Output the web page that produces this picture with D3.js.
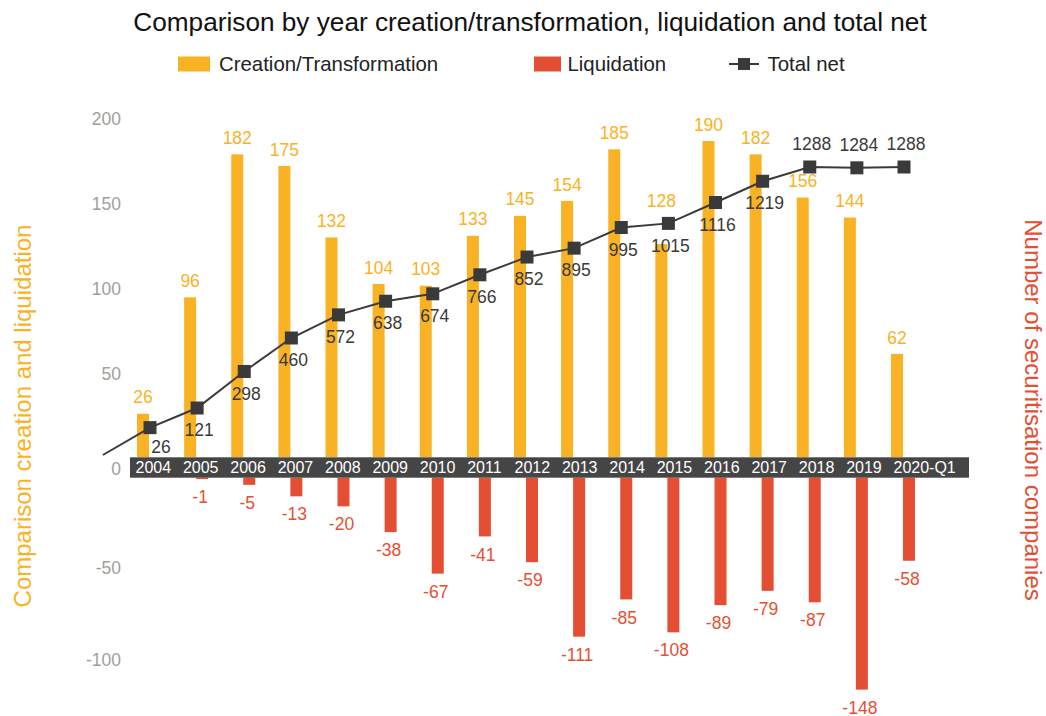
<!DOCTYPE html>
<html>
<head>
<meta charset="utf-8">
<script src="https://cdn.jsdelivr.net/npm/d3@7"></script>
<style>
  html, body { margin: 0; padding: 0; background: #fff; }
  svg text { font-family: "Helvetica Neue", Helvetica, Arial, "Liberation Sans", sans-serif; }
</style>
</head>
<body>
<svg id="chart" width="1046" height="716"></svg>
<script>
// ---- data ----
const categories = ["2004","2005","2006","2007","2008","2009","2010","2011","2012","2013","2014","2015","2016","2017","2018","2019","2020-Q1"];
const creation = [26, 96, 182, 175, 132, 104, 103, 133, 145, 154, 185, 128, 190, 182, 156, 144, 62];
const liquidation = [null, -1, -5, -13, -20, -38, -67, -41, -59, -111, -85, -108, -89, -79, -87, -148, -58];
const totalNet = [26, 121, 298, 460, 572, 638, 674, 766, 852, 895, 995, 1015, 1116, 1219, 1288, 1284, 1288];
const leftTicks = [200, 150, 100, 50, 0, -50, -100];
const seriesNames = ["Creation/Transformation", "Liquidation", "Total net"];

// ---- style ----
const YELLOW = "#F9B224", RED = "#E44F33", DARK = "#3a3a3a", BAND = "#454545", GREY = "#a39e99";
const FONT = "'Helvetica Neue', Helvetica, Arial, 'Liberation Sans', sans-serif";

const svg = d3.select("#chart");

// ---- scales ----
const x = d3.scalePoint().domain(categories).range([149, 903]);
const xLab = d3.scalePoint().domain(categories).range([135, 893]);
const step = x.step();
const barW = 12;
const yC = d3.scaleLinear().domain([0, 200]).range([457, 124.4]);
const yL = d3.scaleLinear().domain([0, -150]).range([477.7, 692.5]);
const yN = d3.scaleLinear().domain([0, 1288]).range([433, 167]);
const yAxis = d3.scaleLinear().domain([-100, -50, 0, 50, 200]).range([660, 568, 469, 374, 119]);

// ---- title ----
svg.append("text").attr("x", 530).attr("y", 31).attr("text-anchor", "middle")
  .attr("font-size", 26.2).attr("fill", "#111")
  .text("Comparison by year creation/transformation, liquidation and total net");

// ---- legend ----
const lg = svg.append("g");
lg.append("rect").attr("x", 178).attr("y", 56.5).attr("width", 32).attr("height", 15).attr("fill", YELLOW);
lg.append("text").attr("x", 219).attr("y", 64).attr("dy", "0.35em").attr("font-size", 20.4).attr("fill", "#222").text(seriesNames[0]);
lg.append("rect").attr("x", 534).attr("y", 56.5).attr("width", 27).attr("height", 15).attr("fill", RED);
lg.append("text").attr("x", 567.5).attr("y", 64).attr("dy", "0.35em").attr("font-size", 20.4).attr("fill", "#222").text(seriesNames[1]);
lg.append("line").attr("x1", 729).attr("x2", 759).attr("y1", 64).attr("y2", 64).attr("stroke", DARK).attr("stroke-width", 2);
lg.append("rect").attr("x", 738).attr("y", 58).attr("width", 12).attr("height", 12).attr("fill", DARK);
lg.append("text").attr("x", 767.5).attr("y", 64).attr("dy", "0.35em").attr("font-size", 20.4).attr("fill", "#222").text(seriesNames[2]);

// ---- axis titles ----
svg.append("text").attr("transform", "translate(23,416) rotate(-90)").attr("text-anchor", "middle")
  .attr("dy", "0.35em").attr("font-size", 24).attr("fill", YELLOW).text("Comparison creation and liquidation");
svg.append("text").attr("transform", "translate(1033,410) rotate(90)").attr("text-anchor", "middle")
  .attr("dy", "0.35em").attr("font-size", 24).attr("fill", RED).text("Number of securitisation companies");

// ---- left axis (labels only) ----
const ax = svg.append("g").attr("transform", "translate(121,0)")
  .call(d3.axisLeft(yAxis).tickValues(leftTicks).tickSize(0).tickPadding(0).tickFormat(d => String(d)));
ax.select(".domain").remove();
ax.selectAll("text").attr("font-size", 17.5).attr("fill", GREY).attr("font-family", FONT);

// ---- bars ----
svg.append("g").selectAll("rect").data(categories).join("rect")
  .attr("x", (d) => x(d) - barW).attr("width", barW)
  .attr("y", (d, i) => yC(creation[i])).attr("height", (d, i) => yC(0) - yC(creation[i]))
  .attr("fill", YELLOW);

const liqIdx = categories.map((d, i) => i).filter(i => liquidation[i] != null);
svg.append("g").selectAll("rect").data(liqIdx).join("rect")
  .attr("x", i => x(categories[i])).attr("width", barW)
  .attr("y", yL(0)).attr("height", i => yL(liquidation[i]) - yL(0))
  .attr("fill", RED);

// ---- category band (x axis) ----
svg.append("rect").attr("x", 130).attr("y", 457.3).attr("width", 839).attr("height", 20.4).attr("fill", BAND);
const xa = svg.append("g").attr("transform", "translate(0,467.5)")
  .call(d3.axisBottom(xLab).tickSize(0).tickPadding(0));
xa.select(".domain").remove();
xa.selectAll("text").attr("y", 0).attr("dy", "0.35em").attr("text-anchor", "start")
  .attr("font-size", 16).attr("fill", "#fff").attr("font-family", FONT);

// ---- total net line ----
const pts = categories.map((c, i) => [x(c) + 1, yN(totalNet[i])]);
const linePts = [[x(categories[0]) + 1 - step, yC(0) - 2]].concat(pts);
svg.append("path").attr("d", d3.line()(linePts)).attr("fill", "none")
  .attr("stroke", DARK).attr("stroke-width", 2);
svg.append("g").selectAll("rect").data(pts).join("rect")
  .attr("x", d => d[0] - 6.5).attr("y", d => d[1] - 6.5).attr("width", 13).attr("height", 13).attr("fill", DARK);

// ---- labels ----
const nLast = categories.length;
const netLabelY = (i) => (i >= nLast - 3 ? pts[i][1] - 23 : pts[i][1] + (i === 0 ? 19 : 22));
svg.append("g").selectAll("text").data(categories).join("text")
  .attr("x", (d, i) => pts[i][0] + (i === 0 ? 11 : 2)).attr("y", (d, i) => netLabelY(i)).attr("dy", "0.35em")
  .attr("text-anchor", "middle").attr("font-size", 17.5).attr("fill", DARK)
  .text((d, i) => totalNet[i]);

svg.append("g").selectAll("text").data(categories).join("text")
  .attr("x", d => x(d) - barW / 2)
  .attr("y", (d, i) => {
    let ly = yC(creation[i]) - 16.5;
    const ny = netLabelY(i), py = pts[i][1];
    if (Math.abs(ly - ny) < 14 || Math.abs(ly - py) < 8) ly = py - 23;
    return ly;
  })
  .attr("dy", "0.35em").attr("text-anchor", "middle").attr("font-size", 17.5).attr("fill", YELLOW)
  .text((d, i) => creation[i]);

svg.append("g").selectAll("text").data(liqIdx).join("text")
  .attr("x", i => x(categories[i]) + barW / 2 - 2).attr("y", i => yL(liquidation[i]) + 18).attr("dy", "0.35em")
  .attr("text-anchor", "middle").attr("font-size", 17.5).attr("fill", RED)
  .text(i => liquidation[i]);
</script>
</body>
</html>
